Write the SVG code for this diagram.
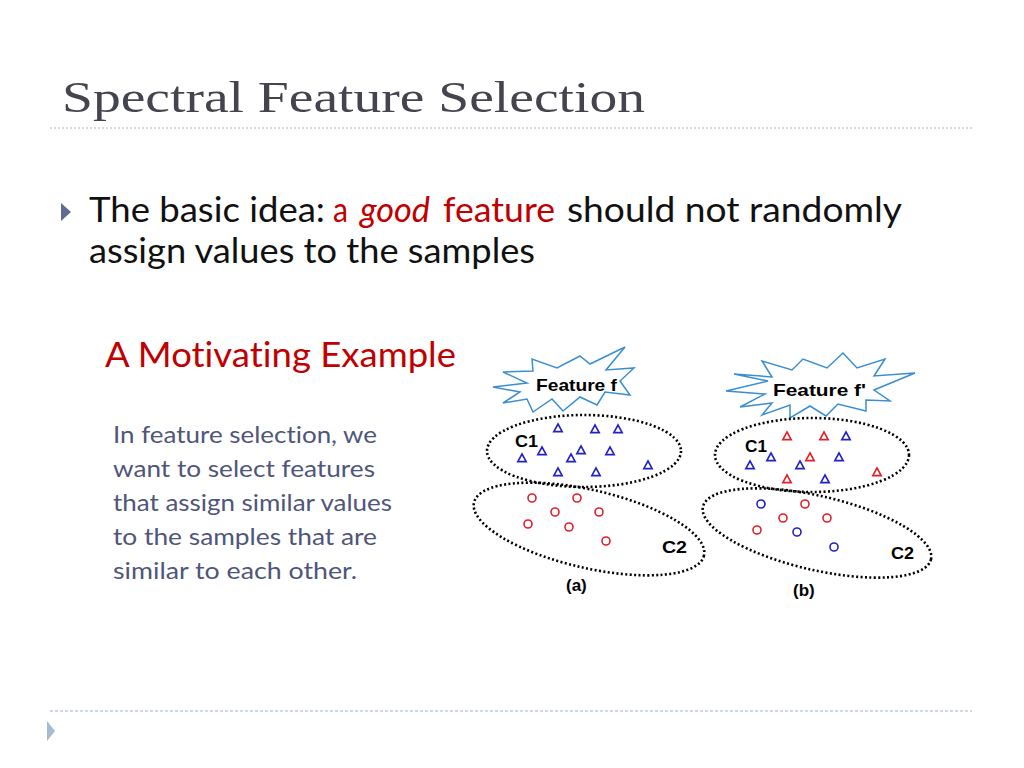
<svg xmlns="http://www.w3.org/2000/svg" xmlns:xlink="http://www.w3.org/1999/xlink" width="1024" height="768" viewBox="0 0 1024 768">
<style>
.title{font-family:"Liberation Serif","DejaVu Serif",serif;font-size:45px;fill:#44444f}
.body{font-family:Lato,"Open Sans","Liberation Sans",sans-serif;font-size:34px;fill:#111;font-variant-ligatures:none}
.red{fill:#c00000}
.para{font-family:Lato,"Open Sans","Liberation Sans",sans-serif;font-size:23px;fill:#4f5679;font-variant-ligatures:none}
.lbl{font-family:"Liberation Sans",Arial,sans-serif;font-weight:bold;font-size:17px;fill:#000}
.star{fill:#fff;stroke:#3b8ed0;stroke-width:1.5;stroke-linejoin:miter}
.dot{fill:none;stroke:#000;stroke-width:2.6;stroke-dasharray:2 2.4}
.tb{fill:none;stroke:#2222c4;stroke-width:1.6}
.tr{fill:none;stroke:#e0202a;stroke-width:1.6}
</style>
<defs>
<path id="tri" d="M0,-4 L4.2,3.6 L-4.2,3.6 Z"/>
</defs>
<rect width="1024" height="768" fill="#fff"/>

<g id="title">
<text class="title" x="62" y="112" textLength="583" lengthAdjust="spacingAndGlyphs">Spectral Feature Selection</text>
<line x1="50" y1="128" x2="972" y2="128" stroke="#b4b4bc" stroke-width="1" stroke-dasharray="2 2"/>
</g>

<g id="bullet">
<polygon points="61,203 71,212 61,221" fill="#5d6c90"/>
<text class="body" x="89" y="222" textLength="236" lengthAdjust="spacingAndGlyphs">The basic idea:</text>
<text class="body red" x="333" y="222" textLength="15" lengthAdjust="spacingAndGlyphs">a</text>
<text class="body red" x="360" y="222" font-style="italic" textLength="70" lengthAdjust="spacingAndGlyphs">good</text>
<text class="body red" x="443" y="222" textLength="112" lengthAdjust="spacingAndGlyphs">feature</text>
<text class="body" x="567" y="222" textLength="335" lengthAdjust="spacingAndGlyphs">should not randomly</text>
<text class="body" x="89" y="263" textLength="446" lengthAdjust="spacingAndGlyphs">assign values to the samples</text>
</g>

<g id="subtitle">
<text class="body red" x="105" y="367" textLength="351" lengthAdjust="spacingAndGlyphs">A Motivating Example</text>
</g>

<g id="paragraph">
<text class="para" x="113" y="443" textLength="264" lengthAdjust="spacingAndGlyphs">In feature selection, we</text>
<text class="para" x="113" y="477" textLength="262" lengthAdjust="spacingAndGlyphs">want to select features</text>
<text class="para" x="113" y="511" textLength="279" lengthAdjust="spacingAndGlyphs">that assign similar values</text>
<text class="para" x="113" y="545" textLength="264" lengthAdjust="spacingAndGlyphs">to the samples that are</text>
<text class="para" x="113" y="579" textLength="244" lengthAdjust="spacingAndGlyphs">similar to each other.</text>
</g>

<g id="figure-a">
<polygon class="star" points="493,387 527,383 503,372 533,371 532,359 557,368 580,356 590,364 625,347 606,370 634,368 620,381 630,395 605,392 597,405 580,397 563,411 552,399 533,412 527,399 503,403 520,392"/>
<text class="lbl" x="536" y="391" textLength="81" lengthAdjust="spacingAndGlyphs">Feature f</text>
<ellipse class="dot" cx="584" cy="451" rx="97" ry="36"/>
<ellipse class="dot" cx="589" cy="529" rx="118" ry="39" transform="rotate(13 589 529)"/>
<text class="lbl" x="515" y="447" textLength="23" lengthAdjust="spacingAndGlyphs">C1</text>
<text class="lbl" x="662" y="553" textLength="25" lengthAdjust="spacingAndGlyphs">C2</text>
<text class="lbl" x="566" y="591" font-size="16">(a)</text>
<g class="tb">
<use xlink:href="#tri" x="558" y="428"/>
<use xlink:href="#tri" x="595" y="429"/>
<use xlink:href="#tri" x="618" y="429"/>
<use xlink:href="#tri" x="542" y="451"/>
<use xlink:href="#tri" x="581" y="450"/>
<use xlink:href="#tri" x="610" y="451"/>
<use xlink:href="#tri" x="522" y="458"/>
<use xlink:href="#tri" x="571" y="458"/>
<use xlink:href="#tri" x="648" y="465"/>
<use xlink:href="#tri" x="558" y="472"/>
<use xlink:href="#tri" x="596" y="472"/>
</g>
<g class="tr">
<circle cx="532" cy="498" r="4"/>
<circle cx="577" cy="498" r="4"/>
<circle cx="555" cy="512" r="4"/>
<circle cx="599" cy="512" r="4"/>
<circle cx="528" cy="524" r="4"/>
<circle cx="569" cy="527" r="4"/>
<circle cx="606" cy="541" r="4"/>
</g>
</g>

<g id="figure-b">
<polygon class="star" points="734,374 768,381 726,391 765,394 740,407 772,403 762,415 790,405 790,418 810,406 826,416 838,404 866,411 866,400 890,401 874,390 915,373 874,376 885,359 857,368 843,353 827,368 803,359 792,370 762,361 772,377"/>
<text class="lbl" x="773" y="396" textLength="93" lengthAdjust="spacingAndGlyphs">Feature f'</text>
<ellipse class="dot" cx="812" cy="455" rx="97" ry="37"/>
<ellipse class="dot" cx="817" cy="533" rx="117" ry="37" transform="rotate(13 817 533)"/>
<text class="lbl" x="745" y="452" textLength="22" lengthAdjust="spacingAndGlyphs">C1</text>
<text class="lbl" x="891" y="559" textLength="23" lengthAdjust="spacingAndGlyphs">C2</text>
<text class="lbl" x="793" y="596" font-size="16">(b)</text>
<g class="tr">
<use xlink:href="#tri" x="787" y="436"/>
<use xlink:href="#tri" x="824" y="436"/>
<use xlink:href="#tri" x="810" y="457"/>
<use xlink:href="#tri" x="877" y="472"/>
<use xlink:href="#tri" x="787" y="479"/>
</g>
<g class="tb">
<use xlink:href="#tri" x="846" y="436"/>
<use xlink:href="#tri" x="771" y="457"/>
<use xlink:href="#tri" x="839" y="457"/>
<use xlink:href="#tri" x="750" y="465"/>
<use xlink:href="#tri" x="800" y="465"/>
<use xlink:href="#tri" x="825" y="479"/>
</g>
<g class="tb">
<circle cx="761" cy="504" r="4"/>
<circle cx="797" cy="532" r="4"/>
<circle cx="834" cy="547" r="4"/>
</g>
<g class="tr">
<circle cx="805" cy="504" r="4"/>
<circle cx="783" cy="518" r="4"/>
<circle cx="827" cy="518" r="4"/>
<circle cx="757" cy="530" r="4"/>
</g>
</g>

<g id="footer">
<line x1="50" y1="711" x2="972" y2="711" stroke="#9bb5cc" stroke-width="1.2" stroke-dasharray="3 2"/>
<polygon points="47,721 55,731 47,741" fill="#a5bbd0"/>
</g>
</svg>
